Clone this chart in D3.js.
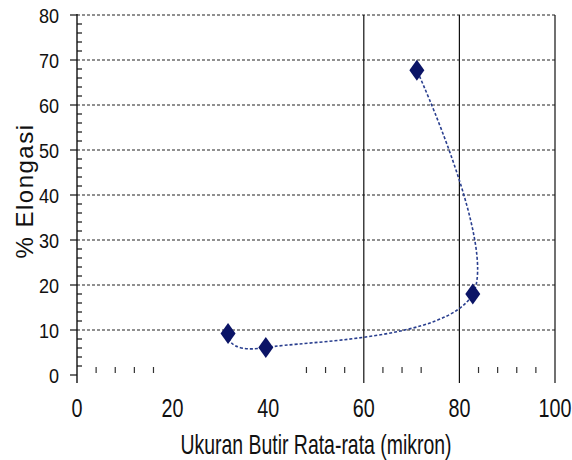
<!DOCTYPE html>
<html>
<head>
<meta charset="utf-8">
<script src="https://cdn.jsdelivr.net/npm/d3@7"></script>
<style>
  body { margin: 0; background: #fff; }
  text { font-family: "Liberation Sans", Arial, sans-serif; fill: #111; }
</style>
</head>
<body>
<svg id="chart"></svg>
<script>
// data
var grainSize = [31.6, 39.5, 82.8, 71.1];   // mikron
var elongation = [9.2, 6.1, 18.0, 67.7];    // %
var xTicks = [0, 20, 40, 60, 80, 100];
var yTicks = [0, 10, 20, 30, 40, 50, 60, 70, 80];
var xStubTicks = [4, 8, 12, 16, 48, 52, 56, 64, 68, 72, 84, 88, 92, 96];
var vLines = [60, 80, 100];

var svgWidth = 572, svgHeight = 460;

var svg = d3.select("#chart")
.attr("width", svgWidth)
.attr("height", svgHeight);

var x = d3.scaleLinear().domain([0, 100]).range([77, 555]);
var y = d3.scaleLinear().domain([0, 80]).range([375, 15]);
var bottom = y(0) + 8;

// dotted gridlines
svg.selectAll(".grid")
.data(yTicks.filter(function(d) { return d > 0; }))
.enter()
.append("line")
.attr("x1", x(0)).attr("x2", x(100))
.attr("y1", function(d) { return y(d); })
.attr("y2", function(d) { return y(d); })
.attr("stroke", "#222")
.attr("stroke-width", 1.2)
.attr("stroke-dasharray", "3,2");

// solid vertical lines
svg.selectAll(".vline")
.data(vLines)
.enter()
.append("line")
.attr("x1", function(d) { return x(d); })
.attr("x2", function(d) { return x(d); })
.attr("y1", y(80)).attr("y2", bottom)
.attr("stroke", "#111")
.attr("stroke-width", 1.2);

// y axis line + ticks
svg.append("line")
.attr("x1", x(0)).attr("x2", x(0))
.attr("y1", y(80) - 1).attr("y2", bottom)
.attr("stroke", "#111").attr("stroke-width", 1.4);

svg.selectAll(".ymajor")
.data(yTicks)
.enter()
.append("line")
.attr("x1", x(0) - 7).attr("x2", x(0))
.attr("y1", function(d) { return y(d); })
.attr("y2", function(d) { return y(d); })
.attr("stroke", "#111").attr("stroke-width", 1.2);

svg.selectAll(".yminor")
.data(d3.range(2, 80, 2).filter(function(d) { return d % 10 != 0; }))
.enter()
.append("line")
.attr("x1", x(0)).attr("x2", x(0) + 5)
.attr("y1", function(d) { return y(d); })
.attr("y2", function(d) { return y(d); })
.attr("stroke", "#111").attr("stroke-width", 1.2);

// stray little ticks along the bottom
svg.selectAll(".xstub")
.data(xStubTicks)
.enter()
.append("line")
.attr("x1", function(d) { return x(d); })
.attr("x2", function(d) { return x(d); })
.attr("y1", y(0) - 8).attr("y2", y(0) - 2)
.attr("stroke", "#333").attr("stroke-width", 1.2);

// tick labels (condensed look)
svg.selectAll(".ylab")
.data(yTicks)
.enter()
.append("text")
.attr("transform", function(d) { return "translate(59," + (y(d) + 7.5) + ") scale(0.86,1)"; })
.attr("text-anchor", "end")
.style("font-size", "21px")
.text(function(d) { return d; });

svg.selectAll(".xlab")
.data(xTicks)
.enter()
.append("text")
.attr("transform", function(d) { return "translate(" + x(d) + ",417) scale(0.76,1)"; })
.attr("text-anchor", "middle")
.style("font-size", "26px")
.text(function(d) { return d; });

// axis titles
svg.append("text")
.attr("transform", "translate(316,454) scale(0.72,1)")
.attr("text-anchor", "middle")
.style("font-size", "27px")
.text("Ukuran Butir Rata-rata (mikron)");

svg.append("text")
.attr("transform", "translate(33,191) rotate(-90)")
.attr("text-anchor", "middle")
.style("font-size", "24px")
.style("letter-spacing", "1.5px")
.text("% Elongasi");

// smoothed dotted line
var pts = grainSize.map(function(d, i) { return [d, elongation[i]]; });

var line = d3.line()
.x(function(d) { return x(d[0]); })
.y(function(d) { return y(d[1]); })
.curve(d3.curveCardinal.tension(0));

svg.append("path")
.attr("d", line(pts))
.attr("fill", "none")
.attr("stroke", "#2a3f8f")
.attr("stroke-width", 1.6)
.attr("stroke-dasharray", "3,2");

// diamond markers
svg.selectAll(".pt")
.data(pts)
.enter()
.append("path")
.attr("transform", function(d) { return "translate(" + x(d[0]) + "," + y(d[1]) + ")"; })
.attr("d", "M0,-10.5L7.5,0L0,10.5L-7.5,0Z")
.attr("fill", "#0b1466");
</script>
</body>
</html>
